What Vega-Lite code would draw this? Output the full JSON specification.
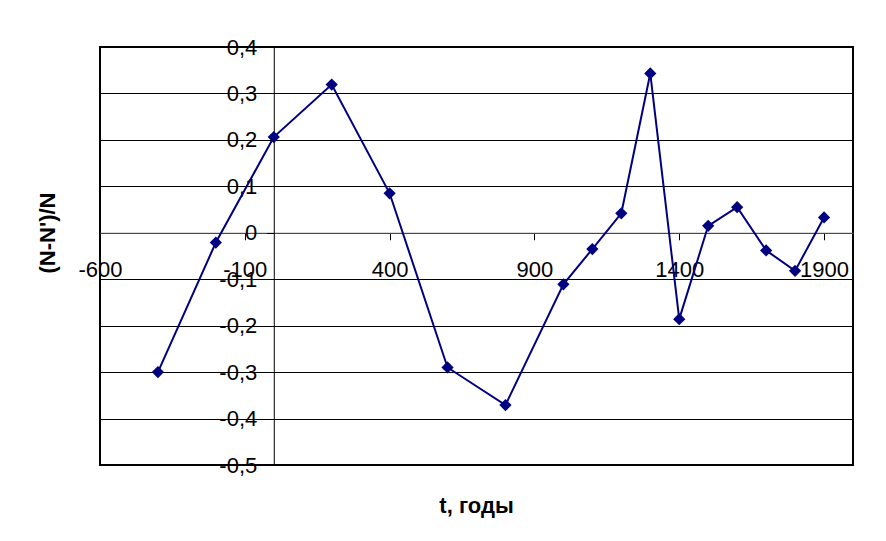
{
  "$schema": "https://vega.github.io/schema/vega-lite/v6.json",
  "width": 753,
  "height": 418,
  "autosize": {"type": "none"},
  "padding": {"left": 100, "top": 47, "right": 33, "bottom": 76},
  "background": "white",
  "config": {
    "font": "Liberation Sans",
    "view": {"stroke": "black", "strokeWidth": 2}
  },
  "data": {
    "values": [
      {"t": -400, "v": -0.300},
      {"t": -200, "v": -0.021},
      {"t": 0, "v": 0.206},
      {"t": 200, "v": 0.319},
      {"t": 400, "v": 0.085},
      {"t": 600, "v": -0.290},
      {"t": 800, "v": -0.371},
      {"t": 1000, "v": -0.111},
      {"t": 1100, "v": -0.035},
      {"t": 1200, "v": 0.042},
      {"t": 1300, "v": 0.343},
      {"t": 1400, "v": -0.186},
      {"t": 1500, "v": 0.015},
      {"t": 1600, "v": 0.055},
      {"t": 1700, "v": -0.038},
      {"t": 1800, "v": -0.082},
      {"t": 1900, "v": 0.033}
    ]
  },
  "encoding": {
    "x": {
      "field": "t",
      "type": "quantitative",
      "scale": {"domain": [-600, 2000], "nice": false, "zero": false},
      "axis": {
        "orient": "bottom",
        "offset": -232.22,
        "values": [-600, -100, 400, 900, 1400, 1900],
        "labelExpr": "'' + datum.value",
        "grid": false,
        "domainColor": "#606060",
        "domainWidth": 1,
        "tickColor": "black",
        "tickSize": 7,
        "tickWidth": 1,
        "labelFont": "Liberation Sans",
        "labelFontSize": 22,
        "labelColor": "black",
        "labelPadding": 20,
        "labelFlush": false,
        "labelOverlap": false,
        "labelBound": false,
        "title": "t, годы",
        "titleFont": "Liberation Sans",
        "titleFontSize": 22,
        "titleFontWeight": "bold",
        "titleColor": "black",
        "titleX": 376,
        "titleY": 280,
        "titleAlign": "center",
        "titleBaseline": "alphabetic",
        "titleAngle": 0
      }
    },
    "y": {
      "field": "v",
      "type": "quantitative",
      "scale": {"domain": [-0.5, 0.4], "nice": false, "zero": false},
      "axis": {
        "orient": "left",
        "offset": -173.77,
        "values": [-0.5, -0.4, -0.3, -0.2, -0.1, 0, 0.1, 0.2, 0.3, 0.4],
        "labelExpr": "datum.value === 0 ? '0' : replace(toString(datum.value), '.', ',')",
        "grid": true,
        "gridColor": "black",
        "gridWidth": 1,
        "domainColor": "black",
        "domainWidth": 1,
        "tickColor": "black",
        "tickSize": 7,
        "tickWidth": 1,
        "labelFont": "Liberation Sans",
        "labelFontSize": 22,
        "labelColor": "black",
        "labelPadding": 10,
        "labelFlush": false,
        "labelOverlap": false,
        "labelBound": false,
        "title": "(N-N')/N",
        "titleFont": "Liberation Sans",
        "titleFontSize": 22,
        "titleFontWeight": "bold",
        "titleColor": "black",
        "titleX": -219,
        "titleY": 185.5,
        "titleAlign": "center",
        "titleBaseline": "alphabetic",
        "titleAngle": -90
      }
    }
  },
  "layer": [
    {"mark": {"type": "line", "color": "#000080", "strokeWidth": 2}},
    {"mark": {"type": "point", "shape": "diamond", "filled": true, "size": 150, "color": "#000080", "opacity": 1}}
  ]
}
